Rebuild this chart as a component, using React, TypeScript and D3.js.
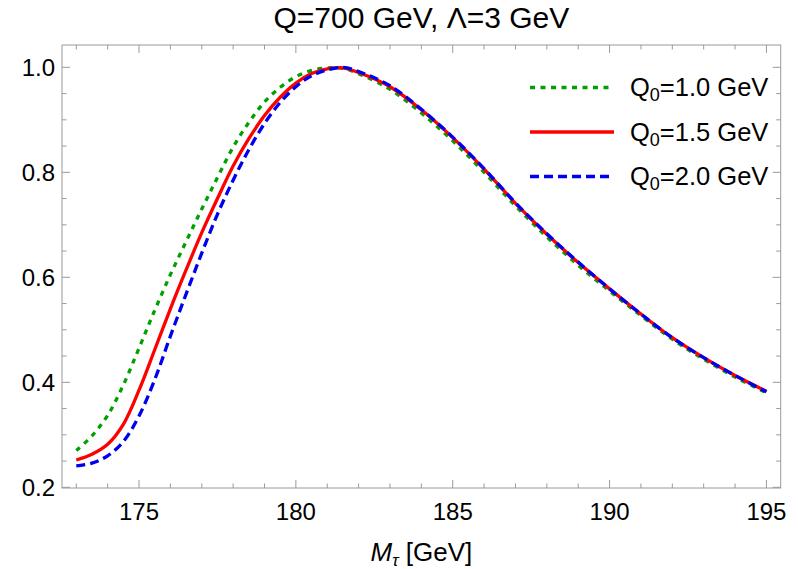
import React from "react";
import * as d3 from "d3";

// M_tau [GeV]
const masses = [
  173, 173.5, 174, 174.5, 175, 175.5, 176, 176.5, 177, 177.5, 178, 178.5, 179, 179.5,
  180, 180.5, 181, 181.5, 182, 183, 184, 185, 186, 187, 188, 189, 190, 191, 192, 193, 194, 195,
];

const q10 = [
  0.27, 0.298, 0.337, 0.395, 0.465, 0.537, 0.605, 0.668, 0.73, 0.79, 0.848, 0.895, 0.934, 0.962,
  0.982, 0.994, 0.999, 0.998, 0.988, 0.958, 0.913, 0.86, 0.8, 0.736, 0.677, 0.623, 0.574, 0.527,
  0.482, 0.444, 0.41, 0.38,
];

const q15 = [
  0.252, 0.263, 0.282, 0.32, 0.385, 0.462, 0.54, 0.614, 0.685, 0.75, 0.812, 0.864, 0.908, 0.943,
  0.97, 0.988, 0.997, 0.999, 0.99, 0.963, 0.919, 0.866, 0.806, 0.741, 0.682, 0.628, 0.578, 0.53,
  0.485, 0.447, 0.413, 0.383,
];

const q20 = [
  0.241, 0.246, 0.26, 0.287, 0.336, 0.405, 0.488, 0.568, 0.646, 0.72, 0.785, 0.843, 0.893, 0.933,
  0.963, 0.984, 0.995, 1.0, 0.992, 0.965, 0.92, 0.867, 0.807, 0.742, 0.683, 0.629, 0.578, 0.53,
  0.485, 0.447, 0.413, 0.382,
];

const seriesLabels = ["1.0", "1.5", "2.0"];
const xTicks = [175, 180, 185, 190, 195];
const yTicks = [0.2, 0.4, 0.6, 0.8, 1.0];

const W = 798;
const H = 569;
const left = 62;
const right = 780.7;
const top = 45;
const bottom = 488;
const font = "'Liberation Sans', Arial, sans-serif";
const frameColor = "#9a9a9a";

export default function App() {
  const x = d3.scaleLinear().domain([172.545, 195.455]).range([left, right]);
  const y = d3.scaleLinear().domain([0.1987, 1.0425]).range([bottom, top]);

  const series = [
    { values: q10, color: "#00a000", dash: "5 5.5", label: seriesLabels[0] },
    { values: q15, color: "#ff0000", dash: "none", label: seriesLabels[1] },
    { values: q20, color: "#0000f0", dash: "9 5", label: seriesLabels[2] },
  ];

  const line = d3
    .line<number>()
    .x((_, i) => x(masses[i]))
    .y((d) => y(d))
    .curve(d3.curveCatmullRom.alpha(0.5));

  const minorX = d3.range(173, 195.5, 1);
  const minorY = d3.range(0.2, 1.04, 0.05);

  return (
    <svg
      width={W}
      height={H}
      style={{ position: "absolute", left: 0, top: 0, background: "white" }}
      fontFamily={font}
    >
      <rect x={0} y={0} width={W} height={H} fill="white" />

      {/* frame ticks */}
      <g stroke={frameColor} strokeWidth={1}>
        {minorX.map((t) => {
          const len = xTicks.includes(t) ? 8 : 4.5;
          return (
            <g key={"xt" + t}>
              <line x1={x(t)} x2={x(t)} y1={bottom} y2={bottom - len} />
              <line x1={x(t)} x2={x(t)} y1={top} y2={top + len} />
            </g>
          );
        })}
        {minorY.map((t) => {
          const major = yTicks.some((v) => Math.abs(v - t) < 1e-6);
          const len = major ? 8 : 4.5;
          return (
            <g key={"yt" + t}>
              <line x1={left} x2={left + len} y1={y(t)} y2={y(t)} />
              <line x1={right} x2={right - len} y1={y(t)} y2={y(t)} />
            </g>
          );
        })}
      </g>

      {/* curves */}
      <g fill="none" strokeWidth={3.3}>
        {series.map((s) => (
          <path
            key={s.label}
            d={line(s.values) ?? ""}
            stroke={s.color}
            strokeDasharray={s.dash}
          />
        ))}
      </g>

      <rect
        x={left}
        y={top}
        width={right - left}
        height={bottom - top}
        fill="none"
        stroke={frameColor}
        strokeWidth={1}
      />

      {/* tick labels */}
      <g fontSize={24} fill="#000">
        {xTicks.map((t) => (
          <text key={"xl" + t} x={x(t)} y={520} textAnchor="middle">
            {t}
          </text>
        ))}
        {yTicks.map((t) => (
          <text key={"yl" + t} x={55} y={y(t) + 8.5} textAnchor="end">
            {t.toFixed(1)}
          </text>
        ))}
      </g>

      {/* title */}
      <text x={(left + right) / 2} y={28} textAnchor="middle" fontSize={30} fill="#000">
        Q=700 GeV, Λ=3 GeV
      </text>

      {/* x axis label */}
      <text x={(left + right) / 2} y={561} textAnchor="middle" fontSize={26} fill="#000">
        <tspan fontStyle="italic">M</tspan>
        <tspan fontStyle="italic" fontSize={17} dy={5}>τ</tspan>
        <tspan dy={-5}> [GeV]</tspan>
      </text>

      {/* legend */}
      {series.map((s, i) => {
        const ly = 87.5 + i * 44.5;
        return (
          <g key={"lg" + s.label}>
            <line
              x1={530}
              x2={614}
              y1={ly}
              y2={ly}
              stroke={s.color}
              strokeWidth={3.3}
              strokeDasharray={s.dash}
            />
            <text x={630} y={ly + 8.5} fontSize={25.5} fill="#000">
              Q<tspan fontSize={18} dy={5}>0</tspan>
              <tspan dy={-5}>={s.label} GeV</tspan>
            </text>
          </g>
        );
      })}
    </svg>
  );
}
